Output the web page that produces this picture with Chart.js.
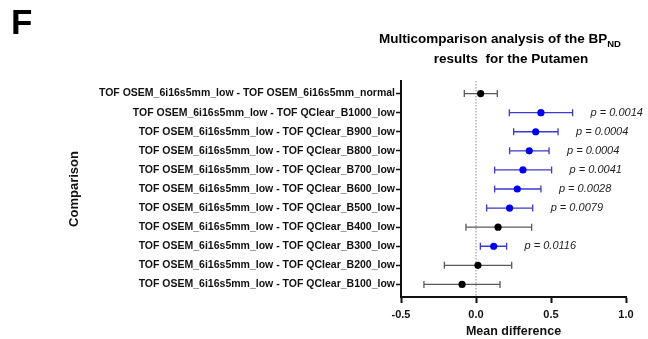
<!DOCTYPE html>
<html>
<head>
<meta charset="utf-8">
<script src="https://cdn.jsdelivr.net/npm/chart.js@4.4.1/dist/chart.umd.min.js"></script>
<style>
  html, body { margin: 0; padding: 0; background: #fff; }
  #wrap { width: 648px; height: 339px; position: relative; }
</style>
</head>
<body>
<div id="wrap"><canvas id="myChart"></canvas></div>
<script>
/* datos */
const categories = [
  'TOF OSEM_6i16s5mm_low - TOF OSEM_6i16s5mm_normal',
  'TOF OSEM_6i16s5mm_low - TOF QClear_B1000_low',
  'TOF OSEM_6i16s5mm_low - TOF QClear_B900_low',
  'TOF OSEM_6i16s5mm_low - TOF QClear_B800_low',
  'TOF OSEM_6i16s5mm_low - TOF QClear_B700_low',
  'TOF OSEM_6i16s5mm_low - TOF QClear_B600_low',
  'TOF OSEM_6i16s5mm_low - TOF QClear_B500_low',
  'TOF OSEM_6i16s5mm_low - TOF QClear_B400_low',
  'TOF OSEM_6i16s5mm_low - TOF QClear_B300_low',
  'TOF OSEM_6i16s5mm_low - TOF QClear_B200_low',
  'TOF OSEM_6i16s5mm_low - TOF QClear_B100_low'
];
const meanDiff = [0.031, 0.433, 0.398, 0.355, 0.313, 0.275, 0.224, 0.147, 0.118, 0.013, -0.093];
const ciLow    = [-0.078, 0.222, 0.251, 0.224, 0.124, 0.124, 0.071, -0.067, 0.029, -0.211, -0.347];
const ciHigh   = [0.142, 0.644, 0.547, 0.487, 0.504, 0.433, 0.378, 0.371, 0.204, 0.238, 0.160];
const pValues  = [null, '0.0014', '0.0004', '0.0004', '0.0041', '0.0028', '0.0079', null, '0.0116', null, null];
const xTicks   = [-0.5, 0.0, 0.5, 1.0];

const FONT = '"Liberation Sans", Arial, sans-serif';
const BLUE = '#0000ee';
const isSig = i => pValues[i] !== null;

// barras de error, linea del cero y valores p
const errorBars = {
  id: 'errorBars',
  beforeDatasetsDraw(chart) {
    const { ctx, scales: { x, y }, chartArea } = chart;
    ctx.save();
    // linea punteada en x = 0
    const x0 = x.getPixelForValue(0);
    ctx.strokeStyle = '#888';
    ctx.lineWidth = 1;
    ctx.setLineDash([1.5, 1.5]);
    ctx.beginPath();
    ctx.moveTo(x0, chartArea.top);
    ctx.lineTo(x0, chartArea.bottom);
    ctx.stroke();
    ctx.setLineDash([]);

    categories.forEach((c, i) => {
      const yy = y.getPixelForValue(i);
      const xl = x.getPixelForValue(ciLow[i]);
      const xh = x.getPixelForValue(ciHigh[i]);
      ctx.strokeStyle = isSig(i) ? '#3a3ad0' : '#5a5a5a';
      ctx.lineWidth = 1.3;
      ctx.beginPath();
      ctx.moveTo(xl, yy); ctx.lineTo(xh, yy);
      ctx.moveTo(xl, yy - 3.5); ctx.lineTo(xl, yy + 3.5);
      ctx.moveTo(xh, yy - 3.5); ctx.lineTo(xh, yy + 3.5);
      ctx.stroke();
    });
    ctx.restore();
  },
  afterDraw(chart) {
    const { ctx, scales: { x, y } } = chart;
    ctx.save();
    ctx.fillStyle = '#222';
    ctx.font = 'italic 11px ' + FONT;
    ctx.textBaseline = 'middle';
    ctx.textAlign = 'left';
    pValues.forEach((p, i) => {
      if (p === null) return;
      ctx.fillText('p = ' + p, x.getPixelForValue(ciHigh[i]) + 18, y.getPixelForValue(i));
    });

    // letra del panel
    ctx.fillStyle = '#000';
    ctx.font = 'bold 35px ' + FONT;
    ctx.textBaseline = 'alphabetic';
    ctx.fillText('F', 11, 34);

    // titulo con subindice
    const main = 'Multicomparison analysis of the BP';
    const sub = 'ND';
    ctx.font = 'bold 13.5px ' + FONT;
    const wMain = ctx.measureText(main).width;
    ctx.font = 'bold 9.5px ' + FONT;
    const wSub = ctx.measureText(sub).width;
    const startX = 500 - (wMain + wSub) / 2;
    ctx.font = 'bold 13.5px ' + FONT;
    ctx.fillText(main, startX, 43);
    ctx.font = 'bold 9.5px ' + FONT;
    ctx.fillText(sub, startX + wMain, 47);
    ctx.font = 'bold 13.5px ' + FONT;
    ctx.textAlign = 'center';
    ctx.fillText('results  for the Putamen', 511, 63);
    ctx.restore();
  }
};

const ctx = document.getElementById('myChart');

new Chart(ctx, {
  type: 'scatter',
  data: {
    datasets: [{
      data: meanDiff.map((v, i) => ({ x: v, y: i })),
      pointRadius: 3.6,
      pointHoverRadius: 3.6,
      pointBorderWidth: 0,
      pointBackgroundColor: meanDiff.map((v, i) => isSig(i) ? BLUE : '#000'),
      pointBorderColor: meanDiff.map((v, i) => isSig(i) ? BLUE : '#000')
    }]
  },
  options: {
    responsive: true,
    maintainAspectRatio: false,
    animation: false,
    layout: { padding: { top: 81, right: 22, left: 0, bottom: 0 } },
    plugins: {
      legend: { display: false },
      tooltip: { enabled: false }
    },
    scales: {
      x: {
        type: 'linear',
        min: -0.5,
        max: 1.0,
        afterBuildTicks: s => { s.ticks = xTicks.map(v => ({ value: v })); },
        afterFit: s => { s.height = 42; },
        ticks: {
          callback: v => Number(v).toFixed(1),
          color: '#111',
          font: { family: FONT, size: 11, weight: 'bold' },
          padding: 5,
          maxRotation: 0
        },
        grid: { drawOnChartArea: false, drawTicks: true, tickLength: 6, tickWidth: 2, tickColor: '#111' },
        border: { display: true, color: '#111', width: 2 },
        title: {
          display: true,
          text: 'Mean difference',
          color: '#111',
          font: { family: FONT, size: 12.5, weight: 'bold' },
          padding: { top: 0, bottom: 0 }
        }
      },
      y: {
        type: 'linear',
        reverse: true,
        min: -0.66,
        max: 10.66,
        afterBuildTicks: s => { s.ticks = categories.map((c, i) => ({ value: i })); },
        afterFit: s => { s.width = 401; },
        ticks: {
          autoSkip: false,
          callback: v => categories[v],
          color: '#111',
          font: { family: FONT, size: 10.5, weight: 'bold' },
          padding: 1
        },
        grid: { drawOnChartArea: false, drawTicks: true, tickLength: 5, tickWidth: 1.5, tickColor: '#111' },
        border: { display: true, color: '#111', width: 2 },
        title: {
          display: true,
          text: 'Comparison',
          color: '#111',
          font: { family: FONT, size: 13, weight: 'bold' },
          padding: { top: 67, bottom: 0 }
        }
      }
    }
  },
  plugins: [errorBars]
});
</script>
</body>
</html>
